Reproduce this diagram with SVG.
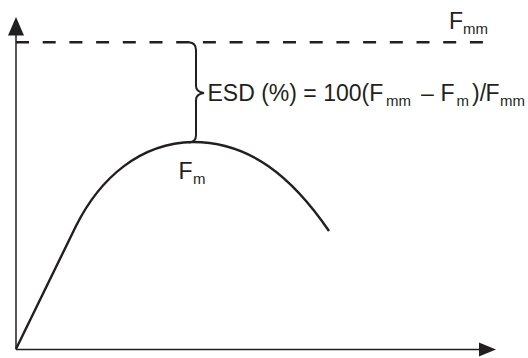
<svg xmlns="http://www.w3.org/2000/svg" width="528" height="358" viewBox="0 0 528 358">
<style>
.axis{stroke:#231f20;stroke-width:1.5;fill:none}
.head{fill:#231f20}
.curve{stroke:#231f20;stroke-width:2.4;fill:none}
.dash{stroke:#231f20;stroke-width:2.4;fill:none;stroke-dasharray:13 13.7}
.brace{stroke:#231f20;stroke-width:2;fill:none}
text{font-family:"Liberation Sans",Arial,sans-serif;fill:#231f20}
.big{font-size:23px}
.sub{font-size:15px}
</style>
<rect width="528" height="358" fill="#fff"/>
<g id="connectors">
<line class="axis" x1="16" y1="349.5" x2="16" y2="34"/>
<polygon class="head" points="16,17 8,35.5 24,35.5"/>
<line class="axis" x1="16" y1="349.5" x2="480" y2="349.5"/>
<polygon class="head" points="496,349.5 479,342.5 479,356.5"/>
<line class="dash" x1="16" y1="42.3" x2="484" y2="42.3"/>
<path class="curve" d="M16,349 L76,226 C100,178 140,143 193,142 C250,142 292,177 329,231"/>
<path class="brace" d="M189,42.3 Q196,43 196,50 L196,86 Q196,92 204,93 Q196,94 196,100 L196,135 Q196,142 189,142.5"/>
</g>
<g id="label-fmm">
<text class="big" x="449" y="28.5">F</text>
<text class="sub" x="463" y="34">mm</text>
</g>
<g id="label-esd">
<text class="big" x="207.5" y="101">ESD (%) = 100(F</text>
<text class="sub" x="386" y="106">mm</text>
<text class="big" x="421" y="101">–</text>
<text class="big" x="440.5" y="101">F</text>
<text class="sub" x="456.5" y="106">m</text>
<text class="big" x="472" y="101">)/</text>
<text class="big" x="485.5" y="101">F</text>
<text class="sub" x="500" y="106">mm</text>
</g>
<g id="label-fm">
<text class="big" x="178.5" y="178.5">F</text>
<text class="sub" x="193" y="183.5">m</text>
</g>
</svg>
